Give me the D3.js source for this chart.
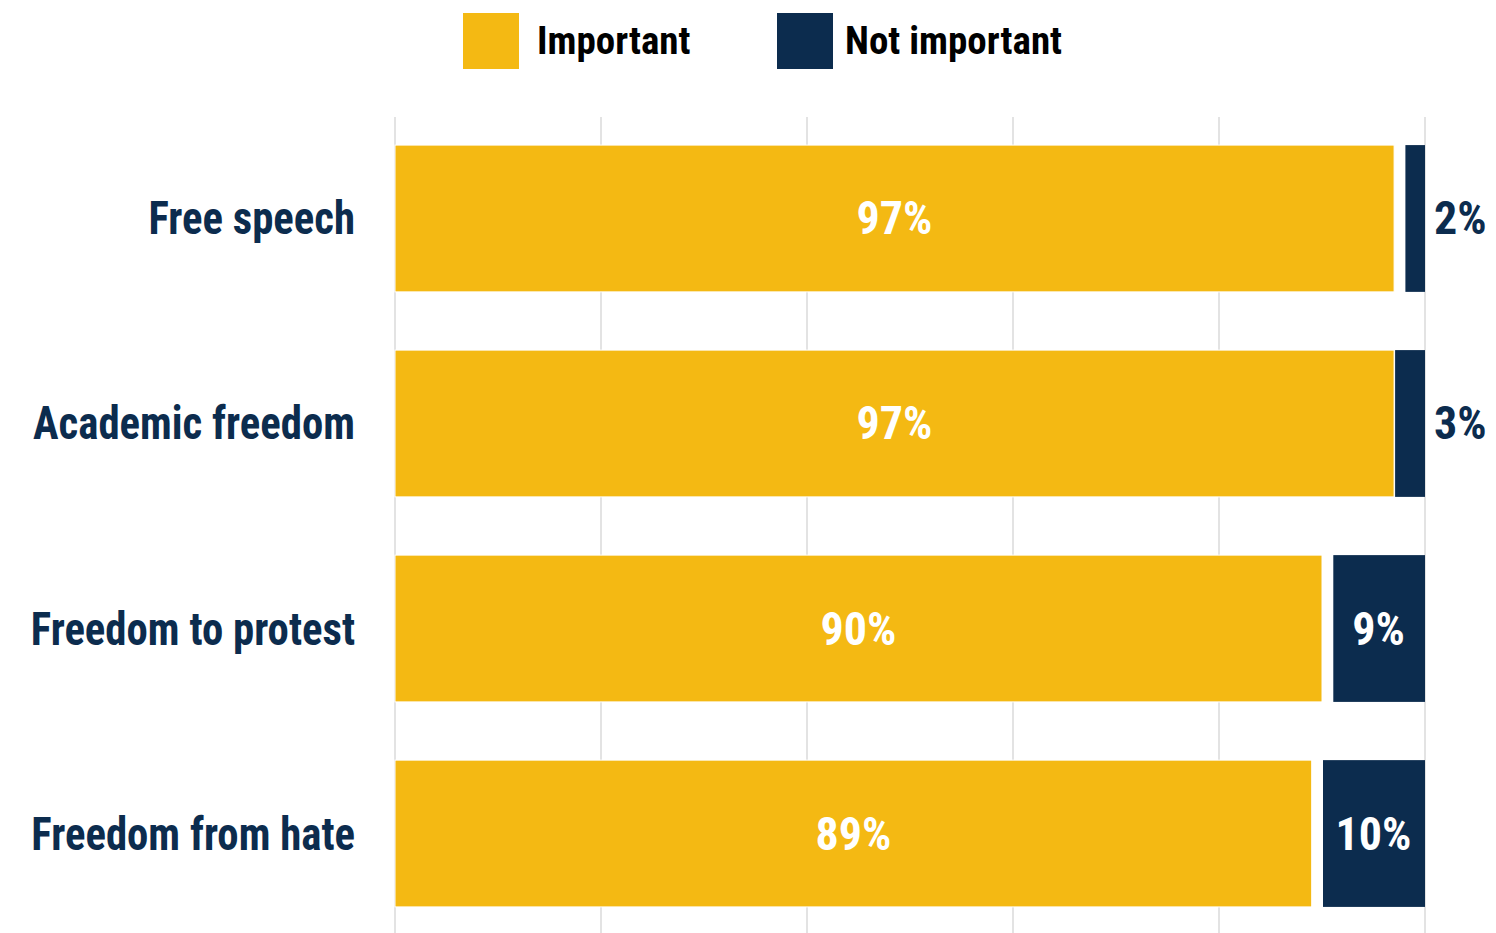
<!DOCTYPE html>
<html>
<head>
<meta charset="utf-8">
<script src="https://cdn.jsdelivr.net/npm/d3@7"></script>
<style>
  body { margin: 0; background: #fff; }
  text { font-family: "Liberation Sans Narrow", "Roboto Condensed", sans-serif; font-weight: bold; }
</style>
</head>
<body>
<div id="chart"></div>
<script>
var width = 1496;
var height = 933;

// data
var categories = ["Free speech", "Academic freedom", "Freedom to protest", "Freedom from hate"];
var important = [97, 97, 90, 89];
var notImportant = [2, 3, 9, 10];
var gridTicks = [0, 20, 40, 60, 80, 100];
var seriesNames = ["Important", "Not important"];
var colors = ["#F4B913", "#0C2C4E"];

var rows = categories.map(function(c, i) {
    return { name: c, imp: important[i], not: notImportant[i] };
});

var xScale = d3.scaleLinear().domain([0, 100]).range([395, 1425]);
var yScale = d3.scaleBand().domain(categories).range([117, 935])
    .paddingInner(0.284).paddingOuter(0.137);

var svg = d3.select("#chart").append("svg")
    .attr("width", width)
    .attr("height", height);

// gridlines
svg.append("g").selectAll("line")
    .data(gridTicks)
    .enter()
    .append("line")
    .attr("x1", function(d) { return xScale(d); })
    .attr("x2", function(d) { return xScale(d); })
    .attr("y1", 117)
    .attr("y2", height)
    .attr("stroke", "#e3e3e3")
    .attr("stroke-width", 2);

var bw = yScale.bandwidth();

// important bars
svg.append("g").selectAll("rect")
    .data(rows)
    .enter()
    .append("rect")
    .attr("x", xScale(0))
    .attr("y", function(d) { return yScale(d.name); })
    .attr("width", function(d) { return xScale(d.imp) - xScale(0); })
    .attr("height", bw)
    .attr("fill", colors[0])
    .attr("stroke", "#fff")
    .attr("stroke-width", 1);

// not important bars, anchored at 100
svg.append("g").selectAll("rect")
    .data(rows)
    .enter()
    .append("rect")
    .attr("x", function(d) { return xScale(100 - d.not) + 1; })
    .attr("y", function(d) { return yScale(d.name); })
    .attr("width", function(d) { return xScale(100) - xScale(100 - d.not) - 1; })
    .attr("height", bw)
    .attr("fill", colors[1]);

// category labels (squeezed a bit to match the condensed face)
svg.append("g").selectAll("text")
    .data(rows)
    .enter()
    .append("text")
    .attr("transform", function(d) {
        return "translate(355," + (yScale(d.name) + bw / 2 + 16) + ") scale(0.93,1)";
    })
    .attr("text-anchor", "end")
    .attr("font-size", 46)
    .attr("fill", colors[1])
    .text(function(d) { return d.name; });

// value labels, important
svg.append("g").selectAll("text")
    .data(rows)
    .enter()
    .append("text")
    .attr("x", function(d) { return (xScale(0) + xScale(d.imp)) / 2; })
    .attr("y", function(d) { return yScale(d.name) + bw / 2 + 16; })
    .attr("text-anchor", "middle")
    .attr("font-size", 46)
    .attr("fill", "#fff")
    .text(function(d) { return d.imp + "%"; });

// value labels, not important (outside when segment is narrow)
function narrow(d) { return (xScale(100) - xScale(100 - d.not)) < 60; }

svg.append("g").selectAll("text")
    .data(rows)
    .enter()
    .append("text")
    .attr("x", function(d) {
        if (narrow(d)) return xScale(100) + 9;
        return (xScale(100 - d.not) + xScale(100)) / 2;
    })
    .attr("y", function(d) { return yScale(d.name) + bw / 2 + 16; })
    .attr("text-anchor", function(d) { return narrow(d) ? "start" : "middle"; })
    .attr("font-size", 46)
    .attr("fill", function(d) { return narrow(d) ? colors[1] : "#fff"; })
    .text(function(d) { return d.not + "%"; });

// legend
var legendX = [463, 777];
var legendTextX = [74, 68];
var legend = svg.append("g").selectAll("g")
    .data(seriesNames)
    .enter()
    .append("g")
    .attr("transform", function(d, i) { return "translate(" + legendX[i] + ",13)"; });

legend.append("rect")
    .attr("width", 56)
    .attr("height", 56)
    .attr("fill", function(d, i) { return colors[i]; });

legend.append("text")
    .attr("x", function(d, i) { return legendTextX[i]; })
    .attr("y", 41)
    .attr("font-size", 39)
    .attr("fill", "#000")
    .text(function(d) { return d; });
</script>
</body>
</html>
